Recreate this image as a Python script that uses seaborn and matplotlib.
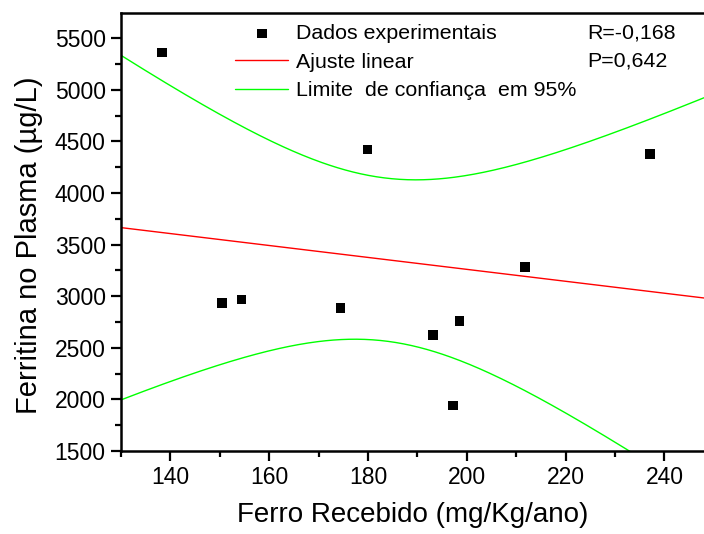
import numpy as np
import pandas as pd
import matplotlib
matplotlib.use("Agg")
import matplotlib.pyplot as plt
import seaborn as sns
from matplotlib.ticker import MultipleLocator

# Data
ferro = [138.3, 150.4, 154.4, 174.45, 179.9, 193.1, 197.2, 198.5, 211.8, 237.1]
ferritina = [5364, 2935, 2967, 2886, 4421, 2624, 1940, 2760, 3281, 4379]

x_ticks = [140, 160, 180, 200, 220, 240]
y_ticks = [1500, 2000, 2500, 3000, 3500, 4000, 4500, 5000, 5500]

label_pts = "Dados experimentais"
label_fit = "Ajuste linear"
label_ci = "Limite  de confiança  em 95%"
r_text = "R=-0,168"
p_text = "P=0,642"
xlabel = "Ferro Recebido (mg/Kg/ano)"
ylabel = "Ferritina no Plasma (\u00b5g/L)"

sns.set_style("ticks")
plt.rcParams['font.family'] = ['Liberation Sans', 'DejaVu Sans']
plt.rcParams['text.color'] = 'black'
plt.rcParams['axes.labelcolor'] = 'black'
plt.rcParams['xtick.color'] = 'black'
plt.rcParams['ytick.color'] = 'black'

fig = plt.figure(figsize=(7.04, 5.34), dpi=100)
ax = fig.add_axes([121/704, 1 - 451/534, 1 - 121/704, (451 - 13)/534])

df = pd.DataFrame({"x": ferro, "y": ferritina})

# linear fit and 95% confidence band of the mean
x = np.asarray(ferro, float)
y = np.asarray(ferritina, float)
n = len(x)
b, a = np.polyfit(x, y, 1)
resid = y - (a + b * x)
s = np.sqrt(np.sum(resid**2) / (n - 2))
t = 2.306  # t(0.975, df=8)
xm = x.mean()
sxx = np.sum((x - xm)**2)
xg = np.linspace(130, 248, 300)
yfit = a + b * xg
half = t * s * np.sqrt(1/n + (xg - xm)**2 / sxx)

fit_df = pd.DataFrame({"x": xg, "fit": yfit, "up": yfit + half, "lo": yfit - half})

sns.lineplot(data=fit_df, x="x", y="fit", ax=ax, color="#ff0000", lw=1.0, label=label_fit)
sns.lineplot(data=fit_df, x="x", y="up", ax=ax, color="#00ff00", lw=1.0, label=label_ci)
sns.lineplot(data=fit_df, x="x", y="lo", ax=ax, color="#00ff00", lw=1.0)
sns.scatterplot(data=df, x="x", y="y", ax=ax, marker="s", s=48, color="black",
                edgecolor="none", label=label_pts, zorder=5)

ax.set_xlim(130, 248)
ax.set_ylim(1500, 5745)
ax.set_xticks(x_ticks)
ax.set_yticks(y_ticks)
ax.xaxis.set_minor_locator(MultipleLocator(10))
ax.yaxis.set_minor_locator(MultipleLocator(250))
ax.tick_params(axis="both", which="major", length=7, width=1.6, labelsize=16.5, direction="out", color="black", labelcolor="black", pad=4)
ax.tick_params(axis="both", which="minor", length=4, width=1.6, direction="out", color="black")

for side in ["left", "bottom", "top"]:
    ax.spines[side].set_visible(True)
    ax.spines[side].set_linewidth(1.8)
    ax.spines[side].set_color("black")
ax.spines["right"].set_visible(False)

ax.set_xlabel(xlabel, fontsize=20, labelpad=9, color="black")
ax.set_ylabel(ylabel, fontsize=21, color="black")
ax.yaxis.set_label_coords(-(121 - 43) / 583, (451 - 245) / 438)

handles, labels = ax.get_legend_handles_labels()
order = [labels.index(label_pts), labels.index(label_fit), labels.index(label_ci)]
leg = ax.legend([handles[i] for i in order], [labels[i] for i in order],
                loc="upper left", bbox_to_anchor=((235 - 121) / 583, 1 - 11/438),
                frameon=False, fontsize=15.4, handlelength=2.5, handletextpad=0.35,
                labelspacing=0.45, borderaxespad=0, borderpad=0, markerscale=1.0,
                labelcolor="black")

ax.text((587 - 121) / 583, (451 - 33) / 438, r_text, transform=ax.transAxes,
        fontsize=15.4, va="center", ha="left", color="black")
ax.text((587 - 121) / 583, (451 - 61) / 438, p_text, transform=ax.transAxes,
        fontsize=15.4, va="center", ha="left", color="black")

fig.savefig("out.png", dpi=100)
